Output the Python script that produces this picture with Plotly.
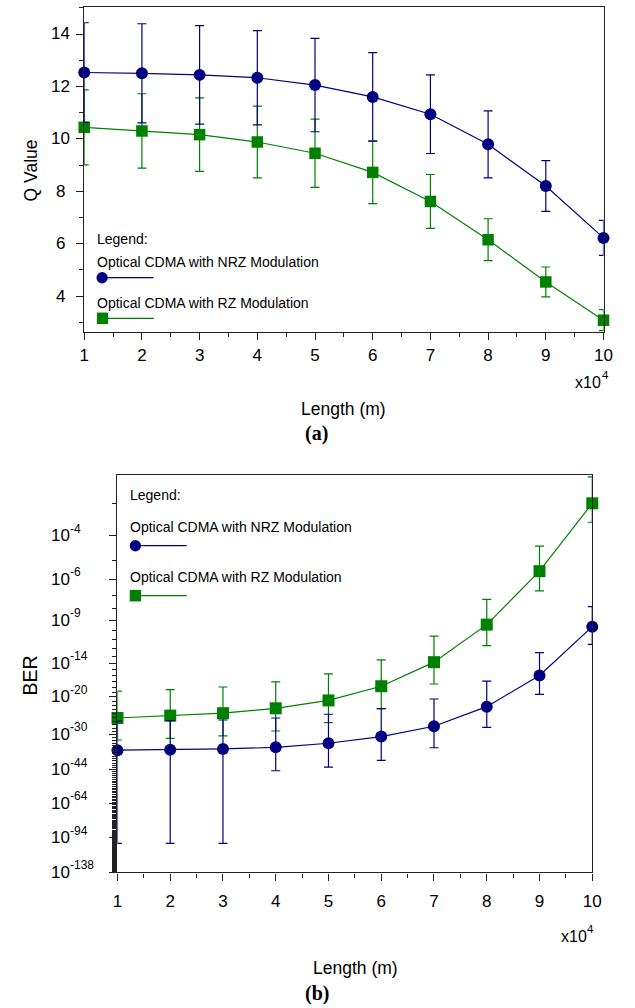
import math
import plotly.graph_objects as go

# ---------------- data ----------------
length = [1, 2, 3, 4, 5, 6, 7, 8, 9, 10]          # length in units of 10^4 m

# (a) Q value
q_nrz = [12.53, 12.50, 12.44, 12.33, 12.05, 11.60, 10.94, 9.79, 8.20, 6.22]
q_nrz_err = [1.90, 1.89, 1.88, 1.80, 1.78, 1.69, 1.50, 1.28, 0.97, 0.67]
q_rz = [10.44, 10.30, 10.16, 9.88, 9.45, 8.72, 7.61, 6.15, 4.54, 3.08]
q_rz_err = [1.43, 1.42, 1.40, 1.37, 1.30, 1.19, 1.03, 0.80, 0.57, 0.40]

# (b) BER
ber_nrz = [2.6e-36, 3.7e-36, 7.9e-36, 3.1e-35, 9.8e-34, 2.0e-31, 3.7e-28, 6.2e-23, 1.2e-16, 2.5e-10]
ber_nrz_hi = [1.1e-26, 1.5e-26, 2.3e-26, 8.0e-26, 8.0e-25, 2.1e-23, 3.5e-21, 1.2e-17, 2.8e-13, 1.4e-8]
ber_nrz_lo = [1.6e-100, 1.6e-100, 1.6e-100, 2.5e-45, 1.5e-43, 1.7e-40, 2.2e-35, 1.7e-28, 3.5e-20, 3.1e-12]
ber_rz = [8.1e-26, 3.5e-25, 1.5e-24, 2.5e-23, 1.7e-21, 1.4e-18, 1.4e-14, 3.9e-10, 2.8e-6, 1.0e-3]
ber_rz_hi = [1.5e-19, 3.1e-19, 1.0e-18, 8.9e-18, 2.2e-16, 2.9e-14, 2.7e-11, 5.0e-8, 4.1e-5, 3.9e-3]
ber_rz_lo = [1.4e-32, 5.1e-32, 3.3e-31, 1.3e-29, 4.2e-27, 2.1e-23, 3.7e-18, 2.2e-12, 1.9e-7, 2.9e-4]

q_ticks = [4, 6, 8, 10, 12, 14]
ber_tick_exp = [4, 6, 9, 14, 20, 30, 44, 64, 94, 138]
series_names = ["Optical CDMA with NRZ Modulation", "Optical CDMA with RZ Modulation"]

# ---------------- helpers ----------------
W, H = 635, 1008
BLUE = "#000080"
GREEN = "#008000"
FONT = "Liberation Sans, Arial, sans-serif"
SERIF = "Liberation Serif, Times New Roman, serif"


def px(x):
    return x / W


def py(y):
    return 1 - y / H


def q_of_ber(b):
    """BER axis scale: BER = 0.5*erfc(Q/sqrt(2)), axis is logarithmic in Q."""
    target = math.log(b)
    lo, hi = 0.0, 30.0
    for _ in range(200):
        mid = (lo + hi) / 2
        v = math.log(0.5 * math.erfc(mid / math.sqrt(2)))
        if v > target:
            lo = mid
        else:
            hi = mid
    return (lo + hi) / 2


def ber_trace(ber, hi, lo, color, symbol, name):
    y = [q_of_ber(b) for b in ber]
    up = [q_of_ber(l) - v for l, v in zip(lo, y)]
    dn = [v - q_of_ber(h) for h, v in zip(hi, y)]
    return go.Scatter(
        x=length, y=y, mode="lines+markers", name=name, showlegend=False,
        xaxis="x2", yaxis="y2", cliponaxis=False,
        line=dict(color=color, width=1.2),
        marker=dict(color=color, size=12, symbol=symbol),
        error_y=dict(type="data", symmetric=False, array=up, arrayminus=dn,
                     color=color, thickness=1.2, width=4.5),
    )


fig = go.Figure()

# (a)
fig.add_trace(go.Scatter(
    x=length, y=q_rz, mode="lines+markers", name=series_names[1], showlegend=False,
    cliponaxis=False, line=dict(color=GREEN, width=1.2),
    marker=dict(color=GREEN, size=11.5, symbol="square"),
    error_y=dict(type="data", array=q_rz_err, color=GREEN, thickness=1.2, width=4.5)))
fig.add_trace(go.Scatter(
    x=length, y=q_nrz, mode="lines+markers", name=series_names[0], showlegend=False,
    cliponaxis=False, line=dict(color=BLUE, width=1.2),
    marker=dict(color=BLUE, size=12, symbol="circle"),
    error_y=dict(type="data", array=q_nrz_err, color=BLUE, thickness=1.2, width=4.5)))

# (b)
fig.add_trace(ber_trace(ber_rz, ber_rz_hi, ber_rz_lo, GREEN, "square", series_names[1]))
fig.add_trace(ber_trace(ber_nrz, ber_nrz_hi, ber_nrz_lo, BLUE, "circle", series_names[0]))

axis_common = dict(showgrid=False, zeroline=False, showline=True, linecolor="#222",
                   linewidth=1.4, mirror=True, ticks="outside", tickcolor="#222",
                   tickwidth=1, ticklen=7)

q_bottom = q_of_ber(1e-138)
q_top = 2.632

fig.update_layout(
    width=W, height=H, autosize=False,
    margin=dict(l=0, r=0, t=0, b=0),
    paper_bgcolor="white", plot_bgcolor="white",
    font=dict(family=FONT, color="black", size=17),
    xaxis=dict(domain=[px(81), px(612)], range=[1, 10], anchor="y",
               tickvals=length, tickfont=dict(size=17), ticklabelstandoff=0,
               minor=dict(tickvals=[v + 0.5 for v in length[:-1]], ticks="outside",
                          ticklen=4, tickcolor="#222"),
               **axis_common),
    yaxis=dict(domain=[py(332), py(7)], range=[2.63, 15.03], anchor="x",
               tickvals=q_ticks, showticklabels=False,
               minor=dict(tickvals=list(range(3, 16)), ticks="outside",
                          ticklen=4, tickcolor="#222"),
               **axis_common),
    xaxis2=dict(domain=[px(115), px(600.5)], range=[1, 10], anchor="y2",
                tickvals=length, tickfont=dict(size=17), ticklabelstandoff=6,
                minor=dict(tickvals=[v + 0.5 for v in length[:-1]], ticks="outside",
                           ticklen=4, tickcolor="#222"),
                **axis_common),
    yaxis2=dict(domain=[py(872.3), py(475)], type="log", anchor="x2",
                range=[math.log10(q_bottom), math.log10(q_top)],
                tickvals=[q_of_ber(10.0 ** -n) for n in ber_tick_exp],
                showticklabels=False,
                minor=dict(tickvals=[q_of_ber(10.0 ** -n) for n in range(3, 139)],
                           ticks="outside", ticklen=4, tickcolor="#222"),
                **axis_common),
)

ann = []


def txt(text, x, y, size, xanchor="center", yanchor="middle", xref="paper", yref="paper",
        family=FONT, angle=0, yshift=0):
    ann.append(dict(x=x, y=y, xref=xref, yref=yref, text=text, showarrow=False,
                    textangle=angle, xanchor=xanchor, yanchor=yanchor, yshift=yshift,
                    font=dict(size=size, family=family, color="black")))


# y tick labels (a)
for v in q_ticks:
    txt(str(v), px(57), v, 17, yref="y")

# y tick labels (b): "10" with a raised, smaller exponent
for n in ber_tick_exp:
    yv = math.log10(q_of_ber(10.0 ** -n))
    txt("10", px(45), yv, 17, xanchor="left", yref="y2")
    txt("-%d" % n, px(64), yv, 12, xanchor="left", yref="y2", yshift=7)

# multiplier labels x10^4
for x0, y0 in [(581, 382), (566, 936)]:
    txt("x10", px(x0), py(y0), 16, xanchor="left")
    txt("4", px(x0 + 27), py(y0 - 7), 11.5, xanchor="left")

txt("Q Value", px(27), py(170), 17.5, angle=-90)
txt("BER", px(26), py(675), 19.5, angle=-90)
txt("Length (m)", px(346), py(409), 17.5)
txt("Length (m)", px(358), py(968), 17.5)
txt("<b>(a)</b>", px(319), py(433), 20, family=SERIF)
txt("<b>(b)</b>", px(319), py(993), 20, family=SERIF)
for x0, ys in [(92, (238.7, 262.3, 302.7)), (126, (495, 526.7, 576.7))]:
    txt("Legend:", px(x0), py(ys[0]), 14, xanchor="left")
    txt(series_names[0], px(x0), py(ys[1]), 14, xanchor="left")
    txt(series_names[1], px(x0), py(ys[2]), 14, xanchor="left")

fig.update_layout(annotations=ann)

# legend samples (line + symbol), drawn as paper shapes
shapes = []
samples = [
    (99.3, 277.7, BLUE, "circle"),
    (99.7, 318.3, GREEN, "rect"),
    (133.3, 545.7, BLUE, "circle"),
    (133.3, 595.7, GREEN, "rect"),
]
for cx, cy, col, kind in samples:
    shapes.append(dict(type="line", xref="paper", yref="paper",
                       x0=px(cx), x1=px(cx + 52.5), y0=py(cy), y1=py(cy),
                       line=dict(color=col, width=1.2)))
    r = 5.75
    shapes.append(dict(type=kind, xref="paper", yref="paper",
                       x0=px(cx - r), x1=px(cx + r), y0=py(cy + r), y1=py(cy - r),
                       fillcolor=col, line=dict(width=0)))
fig.update_layout(shapes=shapes)

fig.write_html("out.html")
